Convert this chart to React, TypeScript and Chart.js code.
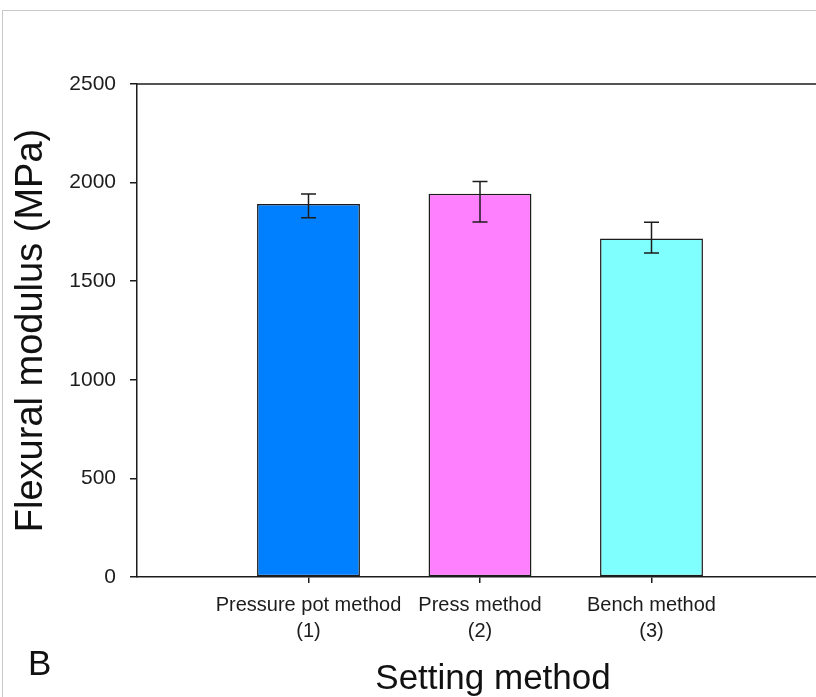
import React, { useEffect, useRef } from "react";
import { Chart, registerables } from "chart.js";

Chart.register(...registerables);

const categories = ["Pressure pot method", "Press method", "Bench method"];
const categoryCodes = ["(1)", "(2)", "(3)"];
const positions = [1, 2, 3];
const modulus = [1891, 1944, 1716];
const errUpper = [1942, 2005, 1799];
const errLower = [1822, 1800, 1643];
const barColors = ["#0080ff", "#ff80ff", "#80ffff"];
const yTickValues = [0, 500, 1000, 1500, 2000, 2500];
const xTitle = "Setting method";
const yTitle = "Flexural modulus (MPa)";
const panelLabel = "B";

const FONT = "'Liberation Sans', Arial, sans-serif";
const INK = "#1c1c1c";

const overlayPlugin = {
  id: "overlay",
  afterDatasetsDraw(chart: any) {
    const { ctx, chartArea, scales } = chart;
    const xs = scales.x;
    const ys = scales.y;
    ctx.save();
    ctx.strokeStyle = INK;
    ctx.lineWidth = 1.5;
    positions.forEach((p, i) => {
      const px = xs.getPixelForValue(p);
      const top = ys.getPixelForValue(errUpper[i]);
      const bot = ys.getPixelForValue(errLower[i]);
      ctx.beginPath();
      ctx.moveTo(px, top);
      ctx.lineTo(px, bot);
      ctx.moveTo(px - 7.5, top);
      ctx.lineTo(px + 7.5, top);
      ctx.moveTo(px - 7.5, bot);
      ctx.lineTo(px + 7.5, bot);
      ctx.stroke();
    });
    ctx.beginPath();
    ctx.moveTo(chartArea.left, chartArea.top);
    ctx.lineTo(chartArea.right, chartArea.top);
    ctx.stroke();
    ctx.restore();
  },
  afterDraw(chart: any) {
    const { ctx, chartArea } = chart;
    ctx.save();
    ctx.fillStyle = "#111";
    ctx.textAlign = "center";
    ctx.textBaseline = "alphabetic";
    ctx.font = `35px ${FONT}`;
    ctx.fillText(xTitle, 493, chartArea.bottom + 112);
    ctx.translate(42, (chartArea.top + chartArea.bottom) / 2);
    ctx.rotate(-Math.PI / 2);
    ctx.font = `38px ${FONT}`;
    ctx.fillText(yTitle, 0, 0);
    ctx.restore();
  },
};

export default function App() {
  const ref = useRef<HTMLCanvasElement>(null);
  useEffect(() => {
    if (!ref.current) return;
    const chart = new Chart(ref.current, {
      type: "bar",
      data: {
        datasets: [
          {
            data: positions.map((p, i) => ({ x: p, y: modulus[i] })),
            backgroundColor: barColors,
            borderColor: INK,
            borderWidth: 1.5,
            borderSkipped: false,
            barPercentage: 0.6,
            categoryPercentage: 1,
          },
        ],
      },
      options: {
        animation: false,
        responsive: false,
        events: [],
        layout: { padding: { top: 84, right: 17, bottom: 0, left: 0 } },
        plugins: { legend: { display: false }, tooltip: { enabled: false }, title: { display: false } },
        scales: {
          x: {
            type: "linear",
            min: 0,
            max: 4,
            offset: false,
            afterBuildTicks: (s: any) => {
              s.ticks = positions.map((p) => ({ value: p }));
            },
            afterFit: (s: any) => {
              s.height = 120;
            },
            ticks: {
              autoSkip: false,
              maxRotation: 0,
              minRotation: 0,
              padding: 9,
              color: INK,
              font: { family: FONT, size: 20, lineHeight: 1.3 },
              callback: (v: any) => {
                const i = positions.indexOf(Number(v));
                return i >= 0 ? [categories[i], categoryCodes[i]] : "";
              },
            },
            grid: { offset: false, drawOnChartArea: false, tickLength: 6, color: INK, lineWidth: 1.5 },
            border: { color: INK, width: 1.5 },
          },
          y: {
            type: "linear",
            min: 0,
            max: 2500,
            afterBuildTicks: (s: any) => {
              s.ticks = yTickValues.map((v) => ({ value: v }));
            },
            afterFit: (s: any) => {
              s.width = 137;
            },
            ticks: {
              padding: 14,
              color: INK,
              font: { family: FONT, size: 21 },
              callback: (v: any) => String(v),
            },
            grid: { drawOnChartArea: false, tickLength: 7, color: INK, lineWidth: 1.5 },
            border: { color: INK, width: 1.5 },
          },
        },
      },
      plugins: [overlayPlugin],
    } as any);
    return () => chart.destroy();
  }, []);

  return (
    <div
      style={{
        position: "fixed",
        left: 0,
        top: 0,
        width: 816,
        height: 697,
        overflow: "hidden",
        background: "#fff",
      }}
    >
      <div
        style={{
          position: "absolute",
          left: 2,
          top: 10,
          width: 1000,
          height: 1000,
          borderLeft: "1px solid #c8c8c8",
          borderTop: "1px solid #c8c8c8",
        }}
      />
      <canvas ref={ref} width={840} height={697} style={{ position: "absolute", left: 0, top: 0, width: 840, height: 697 }} />
      <div
        style={{
          position: "absolute",
          left: 28,
          top: 641,
          fontFamily: FONT,
          fontSize: 35,
          lineHeight: "44px",
          color: "#111",
        }}
      >
        {panelLabel}
      </div>
    </div>
  );
}
